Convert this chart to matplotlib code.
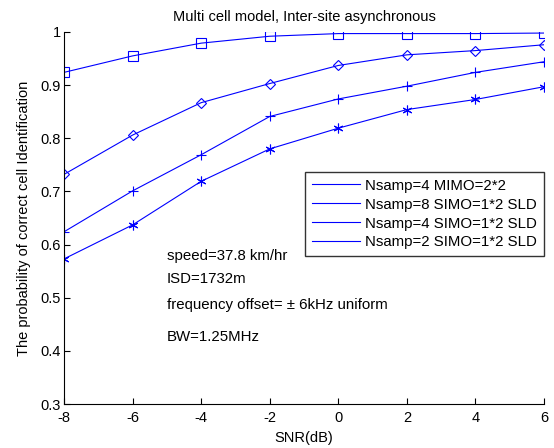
import matplotlib
matplotlib.use("Agg")
import matplotlib.pyplot as plt
from matplotlib.lines import Line2D

plt.rcParams['font.family'] = ['Liberation Sans', 'DejaVu Sans']

# SNR points and identification probabilities
snr = [-8, -6, -4, -2, 0, 2, 4, 6]
mimo_4 = [0.924, 0.955, 0.979, 0.992, 0.997, 0.997, 0.997, 0.998]
simo_8 = [0.732, 0.806, 0.867, 0.903, 0.937, 0.957, 0.965, 0.976]
simo_4 = [0.624, 0.701, 0.769, 0.841, 0.874, 0.898, 0.924, 0.944]
simo_2 = [0.573, 0.637, 0.719, 0.780, 0.819, 0.854, 0.873, 0.897]

labels = ["Nsamp=4 MIMO=2*2", "Nsamp=8 SIMO=1*2 SLD",
          "Nsamp=4 SIMO=1*2 SLD", "Nsamp=2 SIMO=1*2 SLD"]
notes = ["speed=37.8 km/hr", "ISD=1732m",
         "frequency offset= \u00b1 6kHz uniform", "BW=1.25MHz"]

blue = (0, 0, 1)
fig = plt.figure(figsize=(5.54, 4.48), dpi=100)
ax = fig.add_axes([0.1155, 0.0982, 0.8665, 0.8304])

asterisk = (6, 2, 0)
ax.plot(snr, mimo_4, color=blue, lw=0.8, marker='s', ms=6.5, mfc='none', mew=0.8)
ax.plot(snr, simo_8, color=blue, lw=0.8, marker='D', ms=5.5, mfc='none', mew=0.8)
ax.plot(snr, simo_4, color=blue, lw=0.8, marker='+', ms=7, mew=0.8)
ax.plot(snr, simo_2, color=blue, lw=0.8, marker=asterisk, ms=7, mew=0.8)

ax.set_xlim(-8, 6)
ax.set_ylim(0.3, 1.0)
ax.set_xticks(snr)
ax.set_xticklabels([str(v) for v in snr])
ax.set_yticks([0.3, 0.4, 0.5, 0.6, 0.7, 0.8, 0.9, 1.0])
ax.set_yticklabels(["0.3", "0.4", "0.5", "0.6", "0.7", "0.8", "0.9", "1"])
ax.tick_params(direction='in', length=4, width=0.8, labelsize=10.5)
ax.tick_params(axis='x', pad=5)
ax.tick_params(axis='y', pad=2)
ax.spines['top'].set_visible(False)
ax.spines['right'].set_visible(False)

ax.set_title("Multi cell model, Inter-site asynchronous", fontsize=10.5, pad=8)
ax.set_xlabel("SNR(dB)", fontsize=10.5, labelpad=4)
ax.set_ylabel("The probability of correct cell Identification", fontsize=10.5, labelpad=7)

handles = [Line2D([], [], color=blue, lw=0.8) for _ in labels]
leg = ax.legend(handles, labels, loc='upper right', bbox_to_anchor=(1.0, 0.624),
                fontsize=10.8, frameon=True, fancybox=False, handlelength=3.2,
                handletextpad=0.35, borderpad=0.45, labelspacing=0.33, borderaxespad=0)
leg.get_frame().set_edgecolor('black')
leg.get_frame().set_linewidth(1.0)

note_x = -5.0
note_y = [0.578, 0.535, 0.486, 0.426]
for txt, y in zip(notes, note_y):
    ax.text(note_x, y, txt, fontsize=10.8, va='center', ha='left')

fig.savefig("out.png", dpi=100)
